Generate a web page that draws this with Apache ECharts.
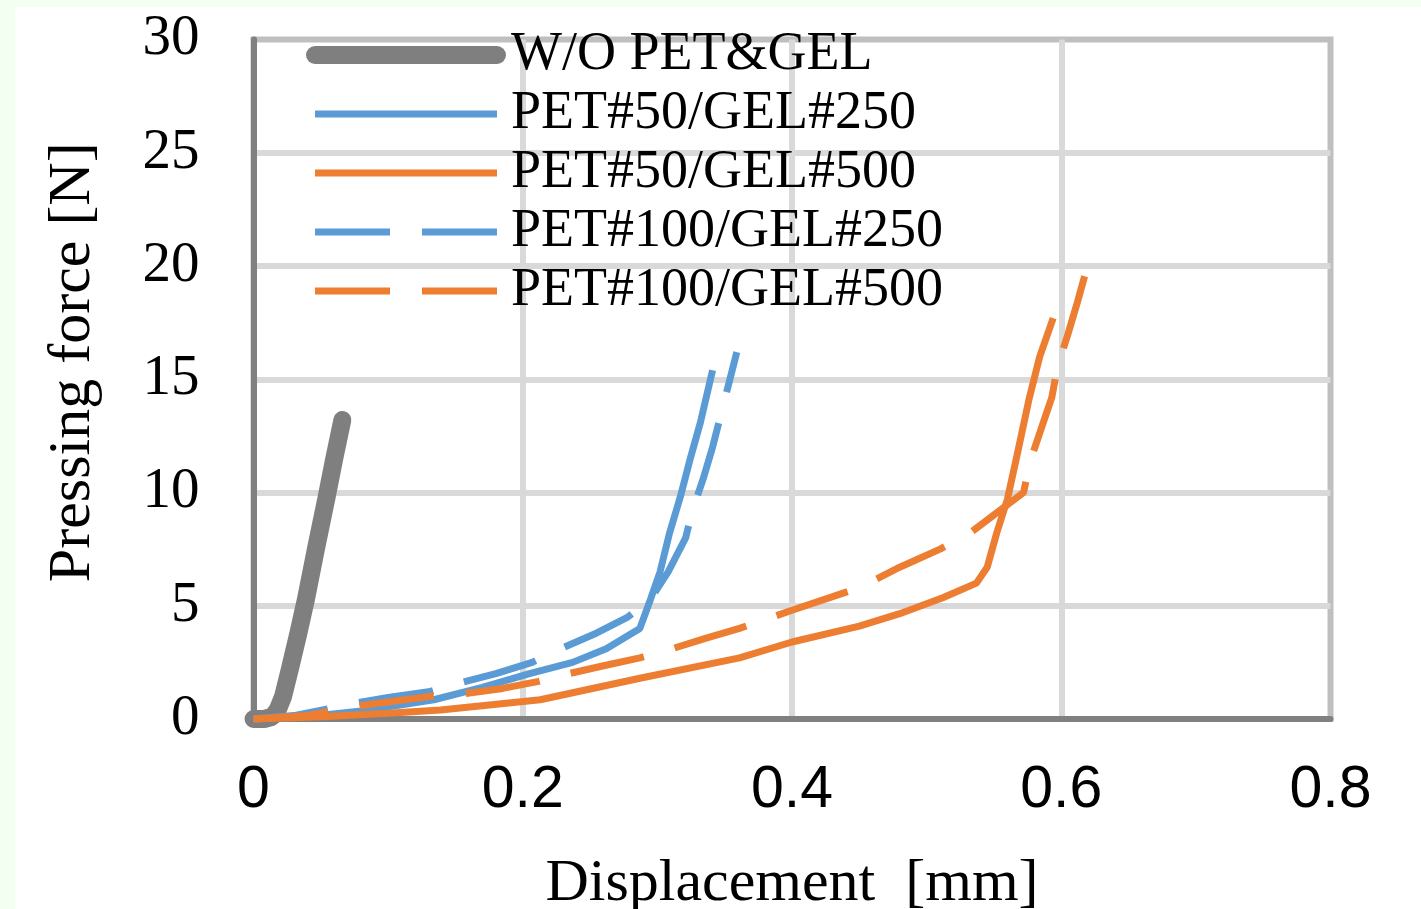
<!DOCTYPE html>
<html>
<head>
<meta charset="utf-8">
<script src="https://cdn.jsdelivr.net/npm/echarts@6/dist/echarts.min.js"></script>
<style>
  html, body { margin: 0; padding: 0; background: #f3fff1; }
  #paper { position: absolute; left: 15px; top: 7px; right: 0; bottom: 0; background: #ffffff; }
  #chart { position: absolute; left: 0; top: 0; width: 1421px; height: 909px; }
</style>
</head>
<body>
<div id="paper"></div>
<div id="chart"></div>
<script>
// [displacement mm, force N]
const woPetGel = [
  [0, 0], [0.008, 0], [0.014, 0.1], [0.018, 0.4], [0.022, 1.0], [0.027, 2.2],
  [0.033, 3.7], [0.039, 5.3], [0.046, 7.4], [0.054, 9.7], [0.06, 11.5], [0.066, 13.2]
]
const pet50gel250 = [
  [0, 0], [0.04, 0.1], [0.08, 0.35], [0.134, 0.85], [0.17, 1.4], [0.205, 2.0],
  [0.237, 2.5], [0.262, 3.1], [0.287, 4.0], [0.295, 5.3], [0.302, 6.5], [0.309, 8.2],
  [0.317, 9.8], [0.324, 11.4], [0.332, 13.1], [0.341, 15.4]
]
const pet50gel500 = [
  [0, 0], [0.05, 0.1], [0.1, 0.25], [0.139, 0.4], [0.213, 0.85], [0.287, 1.8],
  [0.361, 2.7], [0.4, 3.4], [0.45, 4.1], [0.48, 4.65], [0.512, 5.35], [0.537, 6.0],
  [0.545, 6.7], [0.552, 8.2], [0.56, 9.7], [0.567, 11.6], [0.576, 14.1], [0.584, 16.0],
  [0.594, 17.7]
]
const pet100gel250 = [
  [0, 0], [0.03, 0.15], [0.06, 0.5], [0.075, 0.7], [0.1, 0.95], [0.13, 1.2],
  [0.154, 1.6], [0.18, 2.0], [0.207, 2.5], [0.228, 3.1], [0.255, 3.8], [0.278, 4.5],
  [0.295, 5.3], [0.308, 6.5], [0.321, 8.0], [0.326, 9.2], [0.334, 10.6], [0.341, 12.0],
  [0.347, 13.4], [0.353, 14.8], [0.359, 16.2]
]
const pet100gel500 = [
  [0, 0], [0.04, 0.15], [0.074, 0.55], [0.1, 0.75], [0.131, 1.0], [0.155, 1.1],
  [0.185, 1.35], [0.211, 1.65], [0.234, 2.0], [0.26, 2.35], [0.287, 2.7], [0.311, 3.1],
  [0.335, 3.55], [0.361, 4.0], [0.4, 4.8], [0.45, 5.8], [0.48, 6.7], [0.51, 7.5],
  [0.532, 8.2], [0.552, 9.1], [0.572, 10.0], [0.577, 11.4], [0.585, 12.8], [0.593, 14.2],
  [0.597, 15.5], [0.605, 17.0], [0.612, 18.4], [0.619, 19.9]
]
const seriesNames = ['W/O PET&GEL', 'PET#50/GEL#250', 'PET#50/GEL#500', 'PET#100/GEL#250', 'PET#100/GEL#500']
const xTicks = { min: 0, max: 0.8, step: 0.2 }
const yTicks = { min: 0, max: 30, step: 5 }

const C = {
  gray: '#7f7f7f',
  blue: '#5b9bd5',
  orange: '#ed7d31',
  axis: '#808080',
  border: '#bfbfbf',
  grid: '#d9d9d9'
}
const SERIF = '"Liberation Serif", "Times New Roman", serif'
const SANS = '"Liberation Sans", Arial, sans-serif'
const DASH = [75, 32]
const THIN = 7
const THICK = 18

function line(name, data, color, width, type, cap) {
  return {
    name,
    type: 'line',
    data,
    symbol: 'none',
    showSymbol: false,
    clip: false,
    lineStyle: { color, width, type: type || 'solid', cap: cap || 'butt' },
    itemStyle: { color }
  }
}

// legend keys: the line icon only (line series otherwise add a circle), at plot width
const legendData = seriesNames.map((name, i) => ({
  name,
  itemStyle: { opacity: 0 },
  lineStyle: { width: i === 0 ? THICK : THIN, cap: i === 0 ? 'round' : 'butt' }
}))

const chart = echarts.init(document.getElementById('chart'))
chart.setOption({
  animation: false,
  backgroundColor: 'transparent',
  grid: {
    left: 253.5, right: 90.5, top: 39.5, bottom: 190,
    outerBoundsMode: 'none',
    show: true, borderColor: C.border, borderWidth: 6, backgroundColor: 'transparent'
  },
  legend: {
    orient: 'vertical',
    left: 306,   // gray round cap widens the legend box by ~9px on the left
    top: 28,
    padding: 0,
    itemWidth: 182,
    itemHeight: 20,
    itemGap: 5,
    itemStyle: { opacity: 0 },
    textStyle: { fontFamily: SERIF, fontSize: 54, lineHeight: 54, color: '#000', padding: [0, 0, 0, 9] },
    data: legendData
  },
  xAxis: {
    type: 'value',
    min: xTicks.min, max: xTicks.max, interval: xTicks.step,
    name: 'Displacement  [mm]',
    nameLocation: 'middle',
    nameGap: 135,
    nameTextStyle: { fontFamily: SERIF, fontSize: 60, color: '#000' },
    axisLine: { show: true, lineStyle: { color: C.axis, width: 6 } },
    axisTick: { show: false },
    axisLabel: { fontFamily: SANS, fontSize: 59, color: '#000', margin: 42 },
    splitLine: { show: true, showMinLine: false, showMaxLine: false, lineStyle: { color: C.grid, width: 6 } }
  },
  yAxis: {
    type: 'value',
    min: yTicks.min, max: yTicks.max, interval: yTicks.step,
    name: 'Pressing force [N]',
    nameLocation: 'middle',
    nameGap: 150,
    nameTextStyle: { fontFamily: SERIF, fontSize: 60, color: '#000', padding: [0, 0, 0, 34] },
    axisLine: { show: true, lineStyle: { color: C.axis, width: 6 } },
    axisTick: { show: false },
    axisLabel: { fontFamily: SERIF, fontSize: 57, color: '#000', margin: 54 },
    splitLine: { show: true, showMinLine: false, showMaxLine: false, lineStyle: { color: C.grid, width: 6 } }
  },
  series: [
    line(seriesNames[0], woPetGel, C.gray, THICK, 'solid', 'round'),
    line(seriesNames[1], pet50gel250, C.blue, THIN),
    line(seriesNames[2], pet50gel500, C.orange, THIN),
    line(seriesNames[3], pet100gel250, C.blue, THIN, DASH),
    line(seriesNames[4], pet100gel500, C.orange, THIN, DASH)
  ]
})
</script>
</body>
</html>
